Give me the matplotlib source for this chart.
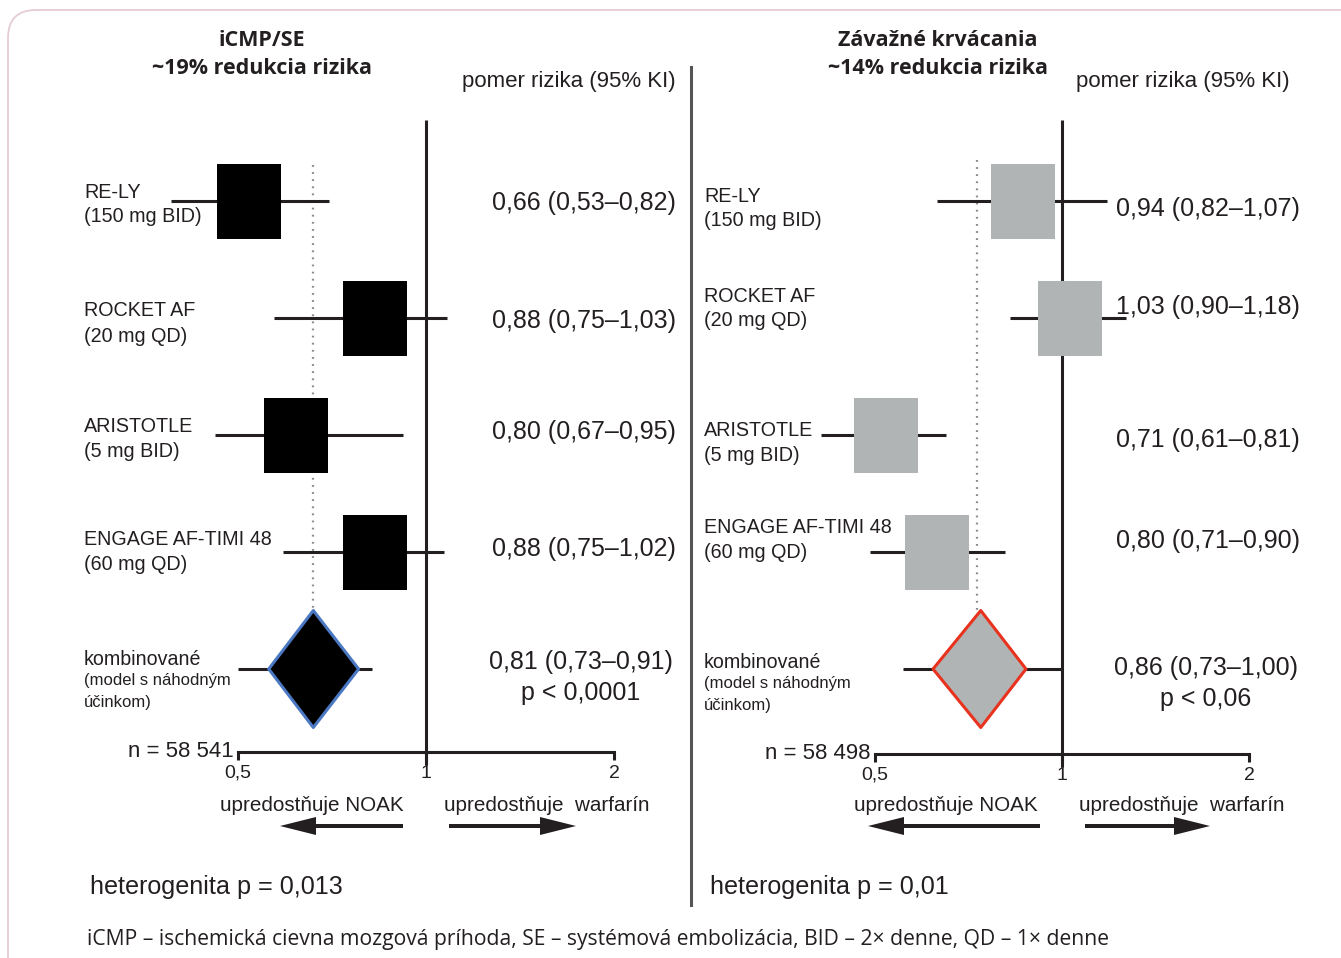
import math

import matplotlib
matplotlib.use("Agg")
import matplotlib.pyplot as plt
import matplotlib.transforms as mtransforms
from matplotlib.lines import Line2D
from matplotlib.patches import FancyArrow, FancyBboxPatch
from matplotlib.ticker import NullLocator

W, H = 1341, 958

studies = ["RE-LY", "ROCKET AF", "ARISTOTLE", "ENGAGE AF-TIMI 48"]
doses = ["(150 mg BID)", "(20 mg QD)", "(5 mg BID)", "(60 mg QD)"]
pooled_label = ["kombinované", "(model s náhodným", "účinkom)"]
tick_values = [0.5, 1, 2]
tick_labels = ["0,5", "1", "2"]

# iCMP/SE - positions
stroke_est = [0.52, 0.83, 0.62, 0.83]
stroke_lo = [0.39, 0.57, 0.46, 0.59]
stroke_hi = [0.70, 1.08, 0.92, 1.07]
stroke_pool = [0.56, 0.66, 0.78]          # diamond left, centre, right
stroke_pool_ci = [0.50, 0.82]
stroke_ref = 0.66
stroke_text = ["0,66 (0,53–0,82)", "0,88 (0,75–1,03)", "0,80 (0,67–0,95)", "0,88 (0,75–1,02)"]
stroke_pool_text = ["0,81 (0,73–0,91)", "p < 0,0001"]
stroke_title = ["iCMP/SE", "~19% redukcia rizika"]
stroke_n = "n = 58 541"
stroke_het = "heterogenita p = 0,013"

# Závažné krvácania
bleed_est = [0.865, 1.03, 0.52, 0.63]
bleed_lo = [0.63, 0.825, 0.41, 0.49]
bleed_hi = [1.18, 1.27, 0.65, 0.81]
bleed_pool = [0.62, 0.74, 0.875]
bleed_pool_ci = [0.555, 1.0]
bleed_ref = 0.73
bleed_text = ["0,94 (0,82–1,07)", "1,03 (0,90–1,18)", "0,71 (0,61–0,81)", "0,80 (0,71–0,90)"]
bleed_pool_text = ["0,86 (0,73–1,00)", "p < 0,06"]
bleed_title = ["Závažné krvácania", "~14% redukcia rizika"]
bleed_n = "n = 58 498"
bleed_het = "heterogenita p = 0,01"

favours = ["upredostňuje NOAK", "upredostňuje  warfarín"]
footnote = "iCMP – ischemická cievna mozgová príhoda, SE – systémová embolizácia, BID – 2× denne, QD – 1× denne"

INK = "#231f20"
SANS = ["Liberation Sans", "DejaVu Sans"]
TITLE = ["Open Sans", "DejaVu Sans"]

ROW0, ROWSTEP = 201, 117          # pixel y of first row, row spacing
BOX = [(-32, -37.5), (32, -37.5), (32, 37.5), (-32, 37.5), (-32, -37.5)]


def row_of(py):
    return (py - ROW0) / ROWSTEP


def row_px(k):
    return ROW0 + ROWSTEP * k


fig = plt.figure(figsize=(W / 100, H / 100), dpi=100)
pix = mtransforms.Affine2D().scale(1 / W, -1 / H).translate(0, 1) + fig.transFigure

# card border
fig.add_artist(FancyBboxPatch((8, 10), 1420, 1060, boxstyle="round,pad=0,rounding_size=28",
                              transform=pix, fc="none", ec="#e6ccd5", lw=1.3))


def ax_px(ax, v):
    x0, x1 = ax.get_xlim()
    b = ax.get_position()
    frac = (math.log(v) - math.log(x0)) / (math.log(x1) - math.log(x0))
    return (b.x0 + frac * b.width) * W


def txt(x, y, s, size, **kw):
    kw.setdefault("family", SANS)
    kw.setdefault("va", "center")
    fig.text(x, y, s, transform=pix, fontsize=size, color=INK, **kw)


def panel(x0, x1, px_one, px_per_double, axis_py, title, title_cx,
          est, lo, hi, pool, pool_ci, ref, ref_top, ref_bot, texts, pool_texts,
          n_text, het, box_color, diamond_ec, label_x, label_y, text_right, text_y,
          head_right, pool_cx, pool_y, fav_cx, arrows):
    ax = fig.add_axes([x0 / W, 0, (x1 - x0) / W, 1])
    ax.set_xscale("log")
    val = lambda px: 2 ** ((px - px_one) / px_per_double)
    ax.set_xlim(val(x0), val(x1))
    ax.set_ylim(row_of(H), row_of(0))
    ax.patch.set_alpha(0)
    for s in ("top", "left", "right"):
        ax.spines[s].set_visible(False)
    sp = ax.spines["bottom"]
    sp.set_position(("axes", 1 - axis_py / H))
    sp.set_bounds(tick_values[0], tick_values[-1])
    sp.set_linewidth(2.2)
    sp.set_color(INK)
    ax.set_yticks([])
    ax.set_xticks(tick_values)
    ax.set_xticklabels(tick_labels, family=SANS, fontsize=14, color=INK)
    ax.xaxis.set_minor_locator(NullLocator())
    ax.tick_params(axis="x", length=6, width=2.2, color=INK, pad=3)

    # line of no effect
    ax.plot([1, 1], [row_of(120), row_of(axis_py + 13)], color=INK, lw=2.2, zorder=2,
            solid_capstyle="butt")
    # pooled estimate reference
    ax.plot([ref, ref], [row_of(ref_top), row_of(ref_bot)], color="#8a8a8a", lw=1.6,
            ls=(0, (0.8, 2.4)), zorder=1)

    for k in range(len(est)):
        ax.plot([lo[k], hi[k]], [k, k], color=INK, lw=2.2, zorder=3, solid_capstyle="butt")
        ax.plot(est[k], k, marker=BOX, ms=54, mew=0, color=box_color, zorder=4)
    kp = len(est)
    ax.plot(pool_ci, [kp, kp], color=INK, lw=2.2, zorder=3, solid_capstyle="butt")
    ax.fill([pool[0], pool[1], pool[2], pool[1]], [kp, kp - 0.5, kp, kp + 0.5],
            fc=box_color, ec=diamond_ec, lw=2.2, joinstyle="round", zorder=4)

    # texts
    for i, t in enumerate(title):
        txt(title_cx, 40 + 29 * i, t, 15.5, ha="center", family=TITLE, fontweight="bold")
    txt(head_right, 82, "pomer rizika (95% KI)", 16, ha="right")
    for k in range(len(est)):
        txt(label_x, label_y[k], studies[k], 14.2)
        txt(label_x, label_y[k] + 25, doses[k], 14.2)
        txt(text_right, text_y[k], texts[k], 18, ha="right")
    txt(label_x, label_y[kp], pooled_label[0], 14.1)
    for i, t in enumerate(pooled_label[1:]):
        txt(label_x, label_y[kp] + 21 + 22 * i, t, 12)
    txt(pool_cx, pool_y, pool_texts[0], 18, ha="center")
    txt(pool_cx, pool_y + 31, pool_texts[1], 18, ha="center")
    txt(ax_px(ax, tick_values[0]) - 4, axis_py, n_text, 16, ha="right")
    for i in range(2):
        txt(fav_cx[i], 806, favours[i], 14.9, ha="center")
        tail, tip = arrows[i]
        fig.add_artist(FancyArrow(tail, 826, tip - tail, 0, width=4, head_width=18,
                                  head_length=36, length_includes_head=True,
                                  transform=pix, color=INK, lw=0))
    txt(label_x + 6, 887, het, 18.1)
    return ax


panel(60, 688, 426, 188, 752, stroke_title, 262,
      stroke_est, stroke_lo, stroke_hi, stroke_pool, stroke_pool_ci, stroke_ref, 165, 612,
      stroke_text, stroke_pool_text, stroke_n, stroke_het, "#000000", "#4a78c2",
      84, [192, 311, 427, 540, 660], 676, [203, 321, 432, 549], 676,
      581, 662, [312, 547], [(403, 280), (449, 576)])

panel(695, 1335, 1062, 187, 754, bleed_title, 938,
      bleed_est, bleed_lo, bleed_hi, bleed_pool, bleed_pool_ci, bleed_ref, 160, 617,
      bleed_text, bleed_pool_text, bleed_n, bleed_het, "#b1b4b4", "#e8321e",
      704, [196, 296, 431, 528, 663], 1300, [209, 307, 440, 541], 1290,
      1206, 668, [946, 1182], [(1040, 868), (1085, 1210)])

# panel separator
fig.add_artist(Line2D([691, 691], [67, 905], transform=pix, color="#555555", lw=2.2))

txt(87, 940, footnote, 15.2, family=TITLE)

fig.savefig("out.png", dpi=100)
